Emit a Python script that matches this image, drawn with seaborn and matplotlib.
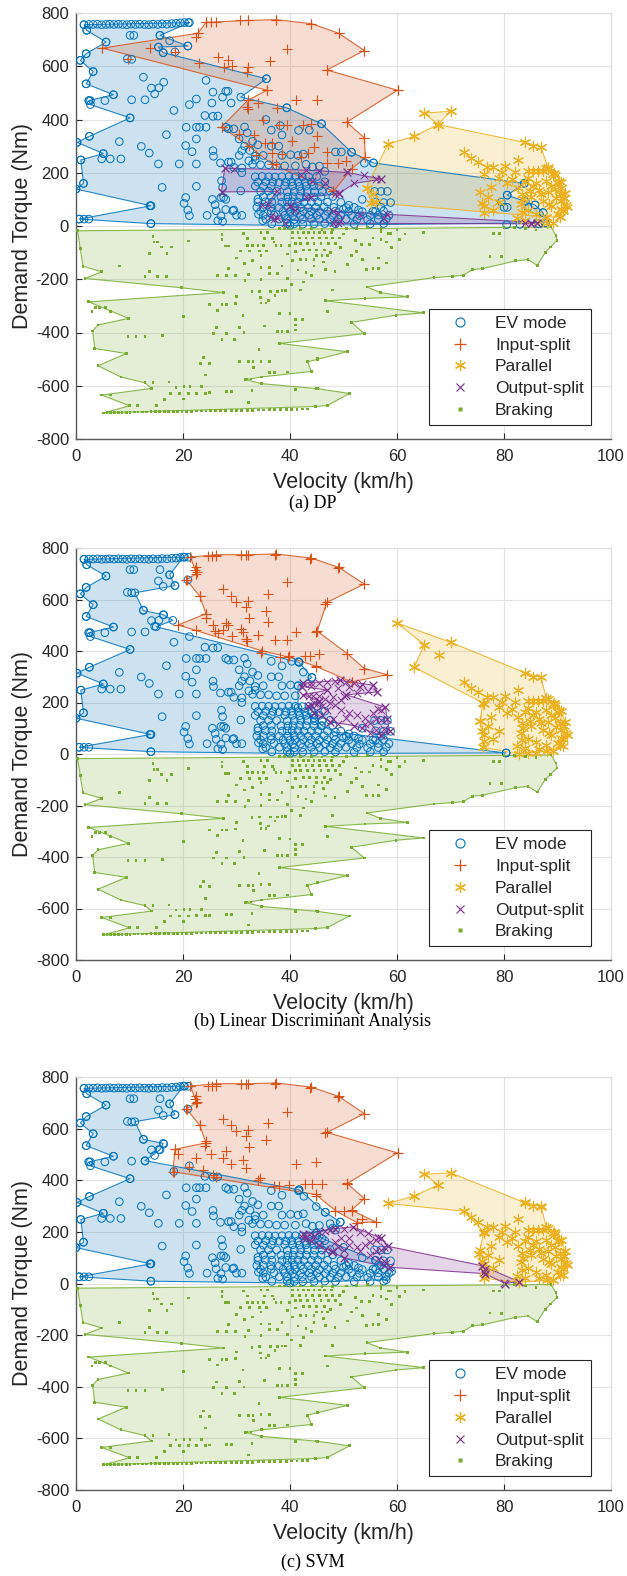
import numpy as np
import matplotlib
matplotlib.use("Agg")
import matplotlib.pyplot as plt
from matplotlib.lines import Line2D
import seaborn as sns

# ---------------- data (velocity km/h, torque Nm) ----------------
CLASSES = ["EV mode", "Input-split", "Parallel", "Output-split", "Braking"]
COLORS = ["#0072BD", "#D95319", "#EDB120", "#7E2F8E", "#77AC30"]
CAPTIONS = ["(a) DP", "(b) Linear Discriminant Analysis", "(c) SVM"]
X_TICKS = [0, 20, 40, 60, 80, 100]
Y_TICKS = [-800, -600, -400, -200, 0, 200, 400, 600, 800]

# ---- EV mode ----
EV_BASE = [
    (1.5,756),(2.4,757),(3.2,757),(4.0,758),(4.8,756),(5.6,757),(6.3,758),(7.1,757),(7.9,758),(8.7,757),
    (9.5,756),(10.3,758),(11.1,757),(11.9,758),(12.8,757),(13.6,756),(14.4,758),(15.3,757),(16.1,759),
    (17.0,758),(17.9,760),(18.7,761),(19.5,763),(20.3,764),(21.0,764),
    (10.1,716),(10.8,716),(15.7,716),(5.6,691),(2.0,735),(15.4,672),(17.5,696),(20.9,676),(16.3,651),
    (18.5,654),(10.4,626),(9.6,628),(1.9,647),(0.8,622),(3.2,580),(1.9,534),(12.6,559),(14.1,518),
    (16.4,540),(15.5,519),(14.7,496),(7.0,493),(2.4,471),(2.7,471),(5.4,471),(10.4,474),(12.9,474),
    (18.3,434),(21.2,456),(24.1,415),(25.6,412),(26.5,413),(10.1,406),(2.5,337),(0.2,314),(5.1,272),
    (0.9,248),(4.8,252),(6.4,252),(8.4,252),(8.1,317),(12.2,299),(13.7,274),(15.4,233),(20.6,371),
    (22.5,371),(23.1,371),(24.3,371),(22.5,327),(16.9,343),(20.5,302),(21.7,279),(25.6,283),(25.7,262),
    (19.3,233),(22.5,233),(1.4,160),(0.0,139),(16.1,145),(14.0,76),(13.8,76),(0.6,26),(1.5,26),(2.4,26),
    (14.0,9),(22.5,149),(27.2,170),(27.4,145),(30.8,132),(27.1,107),(27.6,107),(20.5,107),(20.2,85),
    (20.9,60),(21.2,39),(26.2,57),(27.1,38),(27.4,17),(29.3,57),(34.0,101),(34.1,44),(34.9,20),(24.5,40),
    (26.0,80),(25.5,100),(28.0,62),(29.5,60),(30.0,40),(31.0,40),(26.5,20),(28.0,100),(31.0,200),
    (29.5,220),(28.5,240),(29.0,240),(27.0,237),(30.5,265),(31.0,283),(31.5,300),(32.5,284),(33.5,262),
    (30.5,327),(28.5,365),(28.0,371),(29.5,365),(31.5,372),(32.0,350),(33.0,318),(34.0,305),(32.3,245),
    (31.0,218),(36.5,360),(38.5,342),(41.6,359),(36.5,300),(37.9,300),(38.5,265),(40.1,268),(41.5,265),
    (37.5,226),(39.0,226),(41.0,226),(36.0,230),(34.5,230),(33.0,232),(33.5,248),(35.0,265),
    (33.5,185),(34.8,186),(36.0,185),(37.2,184),(38.5,185),(39.8,186),(41.0,185),(42.3,184),(43.5,185),(45.0,186),
    (34.0,165),(35.5,166),(36.8,165),(38.0,164),(39.2,165),(40.3,166),(41.5,165),(42.8,164),(44.0,165),(46.5,166),
    (33.5,150),(35.0,149),(36.5,150),(39.0,151),(40.5,150),(41.8,149),(43.0,150),(44.5,151),(45.5,150),
    (34.5,130),(36.0,131),(37.5,130),(39.5,129),(40.8,130),(42.0,131),(43.2,130),(44.6,129),(46.0,130),(47.5,131),
    (35.0,110),(36.5,111),(38.3,110),(39.6,109),(40.6,110),(41.8,111),(43.0,110),(44.5,109),(45.8,110),(48.0,111),
    (34.0,90),(35.4,91),(36.6,90),(38.5,89),(39.5,90),(40.4,91),(41.5,90),(42.6,89),(44.0,90),(45.2,91),(47.0,90),(49.5,89),
    (33.8,70),(35.0,71),(36.4,70),(38.0,69),(39.6,70),(40.8,71),(42.0,70),(43.4,69),(44.8,70),(46.4,71),(48.2,70),(50.5,69),(52.0,70),
    (34.5,55),(36.5,56),(38.7,55),(40.0,54),(41.0,55),(42.5,56),(44.0,55),(45.5,54),(47.0,55),(48.5,56),(51.0,55),(53.5,54),(55.5,55),(57.5,56),
    (35.0,40),(37.0,41),(39.0,40),(40.5,39),(42.0,40),(43.6,41),(45.0,40),(46.6,39),(48.0,40),(49.5,41),(51.5,40),(53.0,39),(55.0,40),(56.5,41),(58.5,40),
    (35.5,25),(38.0,26),(39.5,25),(40.8,24),(42.3,25),(44.0,26),(45.5,25),(47.5,24),(49.0,25),(50.5,26),(52.5,25),(54.5,24),(56.5,25),(58.0,26),
    (36.6,8),(39.5,9),(40.8,8),(42.4,7),(44.5,8),(46.5,9),(48.5,8),(52.0,7),(55.0,8),(57.5,9),
    (55.8,130),(57.0,130),(58.2,130),(56.0,90),(57.5,88),(58.8,88),(53.5,100),(51.0,78),(52.8,60),(50.0,63),(57.0,70),(56.0,55),
]
EV_A_EXTRA = [
    (24.3,547),(25.6,503),(28.0,506),(28.4,506),(27.4,484),(29.0,462),(25.4,462),(22.5,477),(35.5,400),
    (38.2,377),(43.6,360),(35.6,553),(39.4,444),(45.9,384),(48.5,278),(49.6,278),(51.5,277),(53.9,236),
    (55.6,237),(46.5,205),(45.5,225),(42.5,270),(43.0,232),(44.2,222),
    (83.8,160),(80.6,116),(79.5,90),(80.0,70),(80.6,70),(85.8,79),(84.0,92),(87.3,50),(87.7,12),(80.5,5),
    (83.0,6),(86.5,8),(84.5,70),
]
EV_B_EXTRA = [(80.4,4),(44.1,297),(41.7,356),(40.3,360),(42.5,318)]
EV_C_EXTRA = [(42.5,270),(43.0,232),(44.2,222),(45.5,225),(46.6,276),(49.4,238),(47.5,232),(44.9,298),
              (42.6,338),(41.7,363),(48.5,207)]
EV_LEFT_EDGE = [(40,2),(14.0,9),(0.6,26),(14.0,76),(0.0,139),(1.4,160),(0.9,248),(5.1,272),(0.2,314),
                (2.5,337),(10.1,406),(2.7,456),(2.4,471),(7.0,493),(1.9,534),(3.2,580),(0.8,622),(1.9,647),
                (5.6,691),(2.0,735),(1.5,756)]
EV_HULL_A = [(21.2,764),(15.7,716),(20.9,676),(15.4,672),(16.3,651),(35.6,553),(30.8,484),(39.4,444),
             (45.9,384),(51.5,277),(55.6,237),(83.8,160),(80.6,116),(85.8,79),(87.3,50),(87.7,12)]
EV_HULL_B = [(20.1,765),(17.5,696),(18.5,654),(11.0,626),(12.6,557),(16.3,541),(18.1,519),(15.0,494),
             (41.7,356),(44.1,297),(41.5,265),(41.5,180),(44.5,140),(46.0,110),(48.5,85),(80.4,4)]
EV_HULL_C = [(20.1,765),(17.5,696),(18.5,654),(11.0,627),(12.6,558),(16.3,543),(15.7,518),(12.9,476),
             (41.7,363),(46.6,276),(49.4,238),(48.0,215),(45.0,195),(46.0,175),(50.0,140),(56.0,90),
             (59.0,47),(58.0,15)]

# ---- Input-split ----
IN_A = [
    (22.8,724),(22.5,710),(13.8,670),(18.5,652),(9.7,628),(4.9,668),(24.3,765),(25.2,766),(26.1,766),
    (30.7,772),(32.1,772),(37.3,775),(44.0,760),(49.1,724),(39.5,665),(53.9,659),(22.9,612),(26.5,636),
    (28.4,622),(29.2,602),(27.6,596),(32.1,597),(31.9,577),(36.3,620),(46.9,586),(35.7,510),(60.1,510),
    (32.1,472),(32.2,440),(31.9,448),(34.1,462),(37.5,445),(41.1,472),(45.1,472),(27.2,372),(30.4,347),
    (33.3,342),(35.3,310),(36.6,311),(33.6,268),(38.0,380),(39.5,380),(42.5,380),(44.0,383),(45.1,339),
    (43.3,275),(44.5,295),(47.0,278),(46.9,235),(48.9,235),(50.5,243),(51.5,214),(48.1,130),(50.6,390),
    (53.9,331),(54.1,258),(37.4,232),(40.3,320),(35.0,400),(36.6,275),(42.0,258),(38.5,270),
]
IN_B = [
    (21.4,765),(24.6,767),(25.4,767),(26.2,767),(30.8,771),(31.8,771),(37.2,774),(43.8,758),(49.0,721),
    (53.9,660),(22.5,725),(22.7,705),(22.3,715),(20.7,677),(23.1,614),(24.3,545),(24.3,530),(19.1,501),
    (22.5,482),(25.6,501),(25.9,476),(27.4,482),(28.1,507),(29.2,457),(30.8,486),(31.3,472),(31.8,447),
    (27.4,639),(29.0,614),(29.9,589),(32.1,595),(31.8,570),(35.8,620),(35.6,557),(35.8,513),(32.3,528),
    (34.1,463),(37.2,441),(39.4,444),(39.4,668),(41.2,473),(44.9,473),(46.6,582),(34.5,394),(38.2,375),
    (39.8,381),(42.8,381),(43.8,381),(45.5,387),(44.8,337),(50.6,387),(51.6,280),(53.9,332),(58.2,308),
    (45.1,477),(32.0,440),(26.5,470),(28.5,500),
]
IN_C = [
    (21.4,765),(24.6,767),(25.4,767),(26.2,767),(30.8,771),(31.8,771),(37.2,774),(43.8,758),(49.0,721),
    (53.9,658),(22.5,725),(22.7,705),(22.3,715),(20.7,677),(23.1,614),(24.3,552),(24.1,533),(18.5,520),
    (19.1,502),(21.1,451),(22.5,485),(18.3,433),(23.7,439),(25.6,420),(26.2,414),(25.3,502),(27.4,485),
    (28.1,514),(29.0,464),(31.3,479),(31.8,448),(34.1,401),(34.4,408),(37.0,376),(38.0,376),(39.8,382),
    (42.8,385),(44.1,385),(45.9,385),(50.6,389),(48.5,282),(50.0,282),(51.5,282),(44.8,339),(41.2,464),
    (44.9,470),(46.6,583),(39.4,665),(27.4,639),(29.0,614),(29.9,589),(32.1,595),(31.8,570),(35.8,620),
    (35.6,557),(32.3,528),(60.1,506),(56.0,239),(52.6,235),(53.5,250),(53.9,329),(50.7,387),
]
IN_HULL_A = [(22.8,724),(24.3,765),(32.1,772),(37.3,775),(44.0,760),(49.1,724),(53.9,659),(46.9,586),
             (60.1,510),(50.6,390),(53.9,331),(54.1,258),(51.5,214),(48.1,130),(36.6,233),(32.3,300),
             (27.2,372),(32.1,472),(35.7,510),(4.9,668)]
IN_HULL_B = [(21.4,765),(26.1,774),(32.1,774),(37.3,777),(44.0,761),(49.1,725),(53.9,660),(46.9,589),
             (45.1,477),(50.7,390),(53.9,332),(58.2,308),(51.5,280),(44.8,341),(39.6,377),(34.7,401),
             (19.1,501),(24.3,545),(23.1,614),(20.6,677),(22.5,700)]
IN_HULL_C = [(21.4,765),(26.1,774),(32.1,774),(37.3,777),(44.0,761),(49.1,725),(53.9,658),(46.9,585),
             (60.1,506),(50.7,387),(53.9,329),(51.5,284),(56.0,239),(52.6,235),(48.5,282),(44.8,345),
             (18.1,433),(18.5,520),(24.3,545),(23.1,614),(20.6,677),(22.5,700)]

# ---- Parallel ----
PAR_CORE = [
    (83.9,314),(85.4,299),(86.9,298),(72.5,279),(73.9,257),(75.2,239),(76.8,220),(78.0,220),(80.2,224),
    (82.7,249),(76.2,195),(79.0,182),(79.6,201),(82.0,201),(84.5,207),(85.4,207),(86.4,207),(87.3,207),
    (88.2,214),(89.1,195),(86.0,163),(87.9,170),(88.8,151),(90.1,163),(75.6,129),(75.8,88),(76.2,75),
    (76.2,50),(82.7,144),(83.3,119),(83.2,82),(83.3,53),(87.0,119),(87.3,94),(88.2,126),(88.5,82),
    (90.4,119),(90.7,94),(90.7,63),(90.1,44),(88.8,75),(89.5,190),(90.2,170),(91.3,107),(91.0,57),
    (90.4,34),(87.9,34),(84.5,180),(85.5,150),(84.8,130),(85.0,110),(86.5,135),(89.5,140),(89.8,105),
    (91.5,80),(91.8,72),(91.4,124),(90.7,167),(89.4,199),(87.9,218),(84.0,165),(83.5,100),(84.5,60),
    (86.0,45),(82.5,30),(84.0,22),(86.5,20),(88.0,12),(89.2,13),(78.0,60),(79.0,90),(80.5,160),
    (81.5,175),(77.5,145),(77.0,110),
]
PAR_A_EXTRA = [(54.3,144),(55.2,88),(58.3,308),(63.2,337),(67.7,381),(65.1,424),(70.0,431),(56.0,90),(55.5,120)]
PAR_B_EXTRA = [(60.0,509),(65.1,425),(70.0,434),(63.2,337),(67.8,384),(82.8,0),(76.1,26),(75.6,130),
               (76.0,199),(84.5,3),(86.0,5)]
PAR_C_EXTRA = [(58.3,310),(63.2,339),(67.7,382),(65.1,423),(70.0,429),(82.8,5),(76.2,20),(75.4,116),(76.2,201)]
PAR_HULL_A = [(54.3,144),(58.3,308),(63.2,337),(67.7,381),(65.1,424),(70.0,431),(67.7,381),(83.9,314),
              (86.9,298),(88.2,220),(90.7,144),(91.3,107),(91.0,57),(90.4,34),(87.9,34),(55.2,88)]
PAR_HULL_B = [(60.0,509),(70.0,434),(83.9,316),(86.9,299),(87.9,218),(89.4,199),(90.7,167),(91.4,124),
              (91.8,72),(91.0,33),(89.2,13),(82.8,0),(76.1,26),(75.6,130),(76.0,199),(63.2,337),(65.1,425)]
PAR_HULL_C = [(58.3,310),(63.2,339),(67.7,382),(65.1,423),(70.0,429),(83.9,313),(86.9,301),(87.9,219),
              (89.4,201),(90.7,167),(91.4,124),(91.8,72),(91.0,33),(89.2,13),(82.8,5),(76.2,20),
              (75.4,116),(76.2,201),(72.5,280)]

# ---- Output-split ----
OUT_A = [(27.8,217),(29.5,215),(45.5,208),(50.7,201),(57.1,176),(56.0,176),(53.8,193),(46.6,163),
         (48.4,121),(49.1,124),(44.1,170),(42.0,190),(34.7,80),(36.2,32),(37.6,30),(49.0,47),(49.3,20),
         (53.0,40),(57.5,30),(58.2,45),(86.2,13),(85.0,10),(84.0,12),(41.0,60),(43.0,110),(40.0,75),
         (27.2,128),(48.0,10),(39.0,12)]
OUT_B = [(42.5,275),(44.0,276),(45.5,277),(47.0,280),(48.5,283),(49.3,286),(50.5,280),(52.0,277),
         (53.5,272),(55.6,267),(42.3,262),(44.0,265),(47.0,248),(49.0,255),(51.0,260),(53.0,262),
         (56.3,241),(54.5,243),(52.5,238),(50.5,230),(42.5,228),(43.5,226),(44.3,224),(45.5,225),
         (46.5,215),(48.0,220),(50.0,225),(45.5,205),(44.5,200),(45.0,195),(43.3,185),(44.0,190),
         (46.0,188),(47.5,200),(48.5,190),(49.5,172),(51.0,160),(52.5,150),(54.0,140),(55.5,160),
         (56.5,175),(57.8,182),(57.0,170),(44.5,160),(46.0,150),(47.5,125),(48.0,135),(49.0,118),
         (50.5,140),(52.0,110),(53.5,100),(55.0,120),(56.0,135),(57.0,132),(58.2,137),(56.0,95),
         (57.5,98),(58.6,91),(57.0,72),(55.0,80),(54.0,115),(47.0,170),(49.5,208)]
OUT_C = [(42.5,192),(43.5,190),(44.5,185),(45.5,200),(46.5,205),(47.5,208),(48.5,213),(51.8,219),
         (50.0,210),(53.0,200),(54.5,195),(56.5,180),(57.0,176),(56.0,170),(55.0,160),(54.0,150),
         (52.5,142),(51.0,150),(50.0,130),(49.0,140),(48.0,125),(47.8,123),(46.5,130),(45.5,150),
         (44.0,165),(43.0,175),(48.5,160),(49.5,175),(51.0,175),(58.3,144),(57.5,140),(57.0,130),
         (56.0,125),(55.0,110),(56.5,95),(57.5,88),(58.0,78),(58.6,63),(57.5,70),(75.9,69),(76.5,55),
         (76.3,45),(76.5,38),(80.2,0),(82.8,7),(80.0,3),(50.0,100),(53.0,125)]
OUT_HULL_A = [(27.8,217),(43.0,210),(50.7,201),(57.1,176),(52.0,160),(49.1,121),(44.0,110),(40.0,75),
              (48.0,55),(86.2,13),(85.0,8),(49.0,10),(37.0,28),(35.8,82),(37.5,130),(27.2,128)]
OUT_HULL_B = [(42.5,275),(49.3,286),(55.6,267),(56.3,241),(50.5,230),(57.8,182),(58.2,137),(58.6,91),
              (57.0,72),(52.0,110),(47.5,125),(44.5,160),(43.3,185),(45.5,205),(42.5,230),(47.0,248),(42.2,262)]
OUT_HULL_C = [(42.5,192),(48.5,213),(51.8,219),(57.0,176),(58.3,144),(75.9,69),(82.8,7),(80.2,0),
              (76.5,38),(58.6,63),(50.0,100),(47.8,123),(45.5,150),(42.5,175)]

# ---- Braking (same in all panels) ----
BRAKE_HULL = [(0.3,-18),(88.8,-4),(89.7,-35),(89.9,-54),(88.7,-79),(87.7,-100),(86.2,-148),(84.5,-126),
              (82.2,-131),(76.0,-160),(74.1,-164),(72.4,-185),(70.4,-189),(66.9,-194),(54.4,-229),
              (56.9,-250),(62.0,-266),(54.0,-272),(46.7,-281),(65.0,-326),(59.8,-335),(51.5,-362),
              (53.9,-404),(38.1,-441),(50.7,-472),(45.1,-501),(43.3,-510),(44.0,-546),(34.7,-567),
              (31.7,-577),(34.7,-592),(45.1,-611),(51.1,-629),(47.0,-674),(44.8,-678),(5.2,-702),
              (10.0,-675),(4.8,-635),(14.1,-610),(12.9,-589),(8.4,-567),(4.1,-525),(9.4,-479),(3.5,-460),
              (3.1,-394),(4.1,-372),(9.8,-347),(2.4,-285),(27.5,-250),(19.7,-232),(1.7,-197),(4.8,-172),
              (1.3,-151),(0.8,-85)]
BRAKE_PTS = [
    (5.8,-701),(6.5,-701),(7.2,-701),(7.9,-700),(8.6,-700),(9.4,-700),(10.1,-700),(10.9,-699),(11.6,-699),
    (12.4,-699),(13.2,-699),(14.0,-698),(14.8,-698),(15.6,-698),(16.5,-697),(17.3,-697),(18.2,-697),
    (19.0,-696),(19.8,-696),(20.7,-696),(21.6,-696),(22.5,-695),(23.4,-695),(24.3,-695),(25.2,-694),
    (26.1,-694),(27.0,-694),(28.0,-693),(29.0,-693),(30.0,-693),(31.0,-692),(32.0,-692),(33.0,-692),
    (34.1,-691),(35.1,-691),(36.1,-690),(37.1,-690),(38.2,-689),(39.3,-689),(40.3,-688),(41.3,-688),
    (42.3,-687),(43.3,-687),
    (27.3,-31),(27.3,-50),(28.0,-75),(28.5,-75),(30.7,-94),(31.3,-29),(32.1,-48),(32.1,-73),(33.0,-73),
    (34.0,-73),(35.0,-73),(32.4,-94),(34.3,-94),(35.6,-94),(34.6,-25),(35.8,-25),(35.2,-48),(36.8,-48),
    (37.4,-73),(38.3,-73),(39.9,-73),(40.5,-25),(41.5,-25),(42.5,-25),(43.5,-25),(44.5,-25),(45.5,-25),
    (46.5,-25),(47.8,-25),(40.5,-45),(41.8,-45),(43.0,-45),(44.2,-45),(45.5,-45),(46.8,-45),(48.0,-45),
    (49.2,-45),(41.0,-65),(42.0,-65),(43.2,-65),(44.5,-65),(45.8,-65),(47.2,-65),(48.5,-65),(38.0,-10),
    (39.0,-10),(40.0,-10),(42.0,-10),(44.0,-10),(46.0,-12),(48.0,-12),(50.5,-10),(52.5,-8),(54.5,-5),
    (57.0,-8),(42.5,-90),(43.7,-90),(45.0,-90),(46.5,-90),(45.0,-110),(46.0,-110),(47.0,-110),(42.0,-125),
    (43.0,-125),(44.5,-125),(46.3,-135),(47.5,-100),(49.5,-80),(50.8,-145),(52.3,-54),(53.4,-70),
    (54.9,-70),(55.5,-160),(56.6,-160),(58.0,-139),(58.3,-29),(58.8,-29),(78.0,-29),(79.1,-29),
    (77.4,-114),(48.4,-170),(54.3,-162),(44.5,-150),(46.6,-163),(44.0,-185),(37.0,-60),
    (14.4,-38),(14.6,-60),(15.2,-60),(16.0,-79),(17.0,-104),(17.9,-79),(13.8,-104),(21.0,-56),(8.1,-150),
    (13.7,-170),(12.9,-191),(15.3,-191),(16.9,-191),
    (26.5,-185),(28.1,-185),(29.8,-185),(32.3,-182),(31.6,-204),(34.6,-157),(36.1,-157),(34.6,-200),
    (36.1,-179),(37.7,-179),(39.6,-197),(40.3,-219),(32.9,-247),(34.3,-245),(36.3,-245),(37.7,-245),
    (38.5,-242),(39.2,-242),(34.5,-269),(34.6,-289),(35.5,-289),(25.0,-295),(27.3,-295),(28.1,-295),
    (29.8,-291),(26.5,-316),(38.1,-329),(31.2,-335),(20.1,-341),(41.0,-350),(42.3,-350),(41.0,-372),
    (41.0,-391),(35.3,-376),(30.6,-380),(26.3,-382),(25.7,-404),(28.1,-404),(31.4,-401),(27.3,-425),
    (29.6,-425),(9.7,-414),(11.2,-414),(12.9,-414),(16.1,-410),(37.7,-395),(38.5,-395),(39.6,-395),
    (34.2,-465),(23.9,-494),(23.3,-516),(25.0,-516),(30.6,-510),(32.2,-510),(33.1,-510),(34.6,-508),
    (36.1,-508),(33.2,-531),(24.2,-560),(36.1,-551),(37.1,-551),(31.8,-575),(32.7,-575),(17.4,-586),
    (14.4,-588),(18.7,-606),(20.2,-603),(21.3,-603),(23.4,-603),(17.7,-629),(19.4,-629),(21.0,-629),
    (22.5,-628),(24.2,-628),(25.0,-626),(28.1,-623),(29.0,-623),(32.9,-619),(16.6,-651),(20.1,-650),
    (32.3,-664),(6.4,-635),(11.5,-675),(15.1,-675),(41.0,-613),(45.0,-610),(45.1,-498),(39.6,-548),
    (3.6,-305),(4.4,-305),(5.5,-305),(6.5,-320),(3.0,-320),(41.5,-165),(42.0,-240),(42.5,-210),
    (43.0,-175),(40.5,-130),(39.5,-105),(38.5,-150),(41.0,-95),(37.2,-260),(36.0,-280),(30.0,-265),
    (31.5,-140),(33.0,-130),(30.0,-120),(34.6,-110),(28.5,-160),(53.5,-125),(56.5,-120),(59.0,-80),
    (55.5,-45),(57.0,-20),(60.0,-15),(50.0,-30),(51.5,-110),(52.5,-95),(57.0,-50),(58.0,-60),(60.5,-50),
    (61.5,-30),(79.5,-115),(80.0,-5),(82.0,-5),(65.0,-25),(84.0,-10),(86.0,-15),(48.0,-240),(47.0,-320),
    (40.0,-330),
]

PANELS = [
    dict(ev=EV_BASE + EV_A_EXTRA, ev_hull=EV_HULL_A, inp=IN_A, in_hull=IN_HULL_A,
         par=PAR_CORE + PAR_A_EXTRA, par_hull=PAR_HULL_A, out=OUT_A, out_hull=OUT_HULL_A),
    dict(ev=EV_BASE + EV_B_EXTRA, ev_hull=EV_HULL_B, inp=IN_B, in_hull=IN_HULL_B,
         par=PAR_CORE + PAR_B_EXTRA, par_hull=PAR_HULL_B, out=OUT_B, out_hull=OUT_HULL_B),
    dict(ev=EV_BASE + EV_C_EXTRA, ev_hull=EV_HULL_C, inp=IN_C, in_hull=IN_HULL_C,
         par=PAR_CORE + PAR_C_EXTRA, par_hull=PAR_HULL_C, out=OUT_C, out_hull=OUT_HULL_C),
]

# ---------------- style ----------------
sns.set_theme(style="whitegrid")
plt.rcParams["font.family"] = ["Liberation Sans", "DejaVu Sans"]
plt.rcParams["axes.unicode_minus"] = False

W, H = 627, 1576
fig = plt.figure(figsize=(W / 100, H / 100), dpi=100)
fig.patch.set_facecolor("white")

AX_L, AX_R = 76, 611
AX_BOXES = [(13, 439), (548, 960), (1077, 1490)]
CAP_Y = [503, 1021, 1562]

MARKERS = dict(
    ev=dict(marker="o", s=30, facecolors="none", linewidths=0.7),
    inp=dict(marker="+", s=60, linewidths=0.8),
    par=dict(marker=(6, 2, 0), s=55, linewidths=0.8),
    out=dict(marker="x", s=30, linewidths=0.7),
    brk=dict(marker="s", s=4, linewidths=0),
)


def arr(pts):
    a = np.asarray(pts, dtype=float)
    return a[:, 0], a[:, 1]


def draw_region(ax, hull, color):
    hx, hy = arr(hull)
    ax.fill(hx, hy, facecolor=color, alpha=0.2, edgecolor="none", zorder=2)
    ax.plot(np.append(hx, hx[0]), np.append(hy, hy[0]), color=color, lw=0.8, alpha=0.85, zorder=3)


def draw_points(ax, pts, color, key):
    px, py = arr(pts)
    kw = dict(MARKERS[key])
    if key == "ev":
        kw["edgecolor"] = color
    elif key == "brk":
        kw["edgecolor"] = "none"
    sns.scatterplot(x=px, y=py, ax=ax, color=color, legend=False, zorder=4, **kw)


for i, p in enumerate(PANELS):
    top, bot = AX_BOXES[i]
    ax = fig.add_axes([AX_L / W, 1 - bot / H, (AX_R - AX_L) / W, (bot - top) / H])
    ax.set_facecolor("white")

    ev_hull = p["ev_hull"] + EV_LEFT_EDGE
    draw_region(ax, ev_hull, COLORS[0])
    draw_region(ax, p["in_hull"], COLORS[1])
    draw_region(ax, p["par_hull"], COLORS[2])
    draw_region(ax, p["out_hull"], COLORS[3])
    draw_region(ax, BRAKE_HULL, COLORS[4])

    draw_points(ax, p["ev"] + ev_hull, COLORS[0], "ev")
    draw_points(ax, p["inp"] + p["in_hull"], COLORS[1], "inp")
    draw_points(ax, p["par"] + p["par_hull"], COLORS[2], "par")
    draw_points(ax, p["out"] + p["out_hull"], COLORS[3], "out")
    draw_points(ax, BRAKE_PTS + BRAKE_HULL, COLORS[4], "brk")

    ax.set_xlim(X_TICKS[0], X_TICKS[-1])
    ax.set_ylim(Y_TICKS[0], Y_TICKS[-1])
    ax.set_xticks(X_TICKS)
    ax.set_yticks(Y_TICKS)
    ax.set_xticklabels([str(v) for v in X_TICKS])
    ax.set_yticklabels([str(v) for v in Y_TICKS])
    ax.grid(True, color="#e3e3e3", lw=0.8)
    ax.set_axisbelow(True)
    ax.tick_params(axis="both", direction="in", length=4, width=0.8, colors="#262626",
                   labelsize=12, top=False, right=False, left=True, bottom=True)
    ax.tick_params(axis="x", pad=7)
    ax.tick_params(axis="y", pad=5)
    for side in ["left", "bottom"]:
        ax.spines[side].set_color("#5a5a5a")
        ax.spines[side].set_linewidth(1.0)
    for side in ["top", "right"]:
        ax.spines[side].set_color("#dcdcdc")
        ax.spines[side].set_linewidth(0.8)
    ax.set_xlabel("Velocity (km/h)", fontsize=15.5, color="#262626", labelpad=6)
    ax.set_ylabel("Demand Torque (Nm)", fontsize=15.5, color="#262626", labelpad=2)

    handles = [
        Line2D([], [], ls="none", marker="o", ms=6.5, mfc="none", mec=COLORS[0], mew=0.8),
        Line2D([], [], ls="none", marker="+", ms=8, color=COLORS[1], mew=0.9),
        Line2D([], [], ls="none", marker=(6, 2, 0), ms=8, color=COLORS[2], mew=0.9),
        Line2D([], [], ls="none", marker="x", ms=6, color=COLORS[3], mew=0.8),
        Line2D([], [], ls="none", marker="s", ms=2.4, color=COLORS[4], mec="none"),
    ]
    leg = ax.legend(handles, CLASSES, loc="lower right", bbox_to_anchor=(0.962, 0.033),
                    fontsize=12.5, frameon=True, fancybox=False, framealpha=1, edgecolor="#262626",
                    handlelength=2.8, handletextpad=0.6, borderpad=0.4, labelspacing=0.38,
                    borderaxespad=0)
    leg.get_frame().set_linewidth(0.8)

    fig.text(313 / W, 1 - CAP_Y[i] / H, CAPTIONS[i], ha="center", va="center", fontsize=13,
             family=["Liberation Serif", "DejaVu Serif"], color="black")

fig.savefig("out.png", dpi=100, facecolor="white")
